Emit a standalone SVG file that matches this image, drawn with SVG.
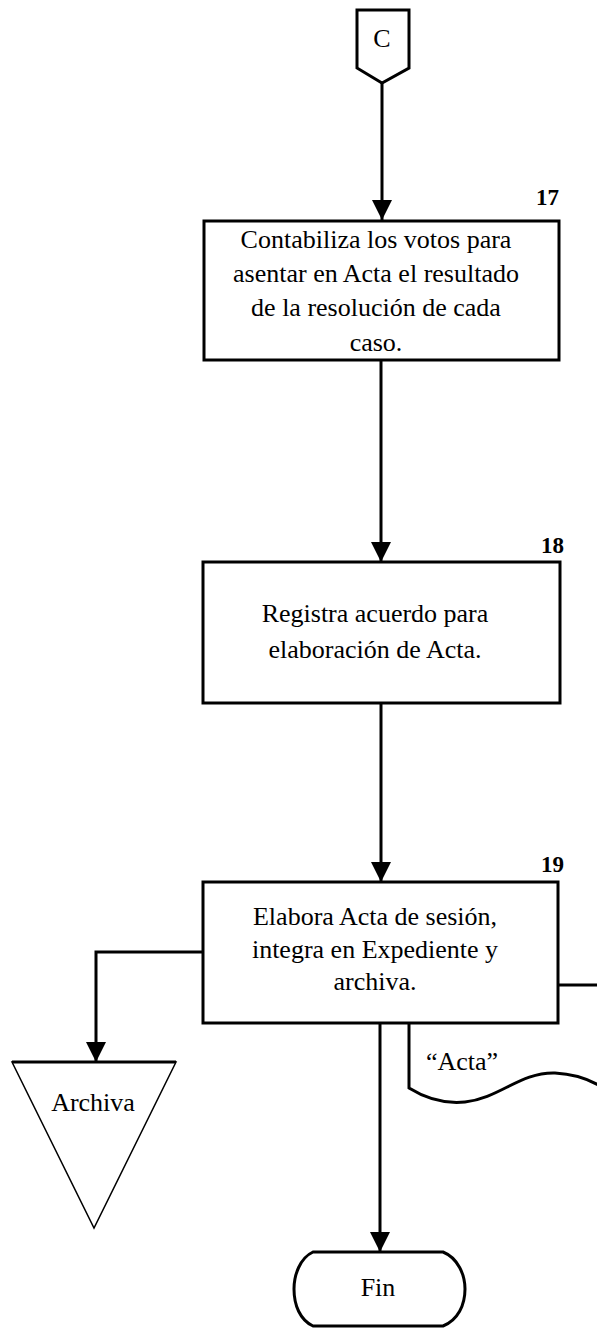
<svg xmlns="http://www.w3.org/2000/svg" width="597" height="1328" viewBox="0 0 597 1328">
<style>
.shape{fill:#fff;stroke:#000;stroke-width:3}
.line{fill:none;stroke:#000;stroke-width:3}
.t{font-family:"Liberation Serif","Times New Roman",serif;font-size:26px;fill:#000;text-anchor:middle}
.n{font-family:"Liberation Serif","Times New Roman",serif;font-size:23px;font-weight:bold;fill:#000;text-anchor:end}
</style>
<defs>
<marker id="arr" markerUnits="userSpaceOnUse" markerWidth="20" markerHeight="20" viewBox="0 0 20 20" refX="20" refY="10" orient="auto">
<path d="M0,0 L20,10 L0,20 Z" fill="#000"/>
</marker>
</defs>
<g id="connectors">
<line class="line" x1="382" y1="83" x2="382" y2="220" marker-end="url(#arr)"/>
<line class="line" x1="381" y1="360" x2="381" y2="562" marker-end="url(#arr)"/>
<line class="line" x1="381" y1="703" x2="381" y2="882" marker-end="url(#arr)"/>
<polyline class="line" points="203,952 96,952 96,1062" marker-end="url(#arr)"/>
<line class="line" x1="380" y1="1023" x2="380" y2="1252" marker-end="url(#arr)"/>
<line class="line" x1="558" y1="985" x2="597" y2="985"/>
</g>
<g id="offpage-C">
<path class="shape" d="M357,10 L409,10 L409,68 L382,83 L357,68 Z"/>
<text class="t" x="382" y="47">C</text>
</g>
<g id="step17">
<rect class="shape" x="204" y="221" width="355" height="139"/>
<text class="n" x="559" y="205">17</text>
<text class="t" x="376" y="248">Contabiliza los votos para</text>
<text class="t" x="376" y="282">asentar en Acta el resultado</text>
<text class="t" x="376" y="316">de la resolución de cada</text>
<text class="t" x="376" y="351">caso.</text>
</g>
<g id="step18">
<rect class="shape" x="203" y="562" width="357" height="141"/>
<text class="n" x="564" y="553">18</text>
<text class="t" x="375" y="622">Registra acuerdo para</text>
<text class="t" x="375" y="658">elaboración de Acta.</text>
</g>
<g id="step19">
<rect class="shape" x="203" y="882" width="355" height="141"/>
<text class="n" x="564" y="872">19</text>
<text class="t" x="375" y="925">Elabora Acta de sesión,</text>
<text class="t" x="375" y="958">integra en Expediente y</text>
<text class="t" x="375" y="990">archiva.</text>
</g>
<g id="archiva">
<path d="M12,1062 L176,1062 L94,1228 Z" fill="#fff" stroke="#000" stroke-width="1.5"/>
<line x1="12" y1="1062" x2="176" y2="1062" stroke="#000" stroke-width="3"/>
<text class="t" x="93" y="1111">Archiva</text>
</g>
<g id="doc-acta">
<path class="line" d="M409,1023 L409,1088 C425,1098 445,1104 465,1102 C500,1098 520,1072 555,1073 C575,1074 590,1080 600,1086"/>
<text class="t" x="462" y="1070">“Acta”</text>
</g>
<g id="fin">
<path class="shape" d="M313,1252 L443,1252 C458,1258 465,1275 465,1289 C465,1305 458,1320 443,1326 L313,1326 C300,1320 294,1305 294,1289 C294,1275 300,1258 313,1252 Z"/>
<text class="t" x="378" y="1296">Fin</text>
</g>
</svg>
